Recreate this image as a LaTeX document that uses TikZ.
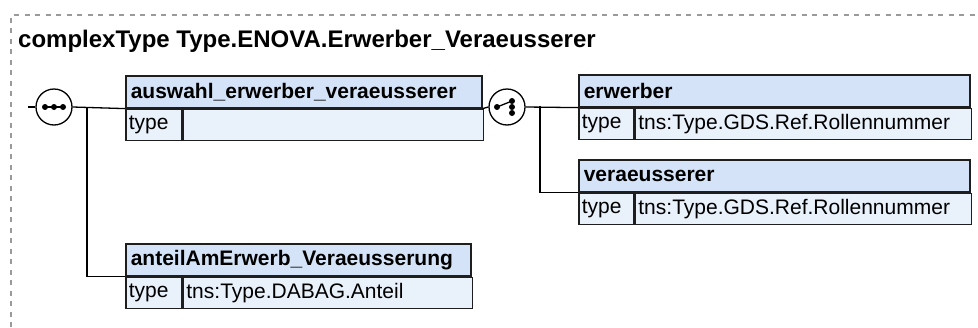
\documentclass[tikz,border=0pt]{standalone}
\usepackage{fontspec}
\setmainfont{Liberation Sans}
\usetikzlibrary{positioning}

\definecolor{hdrblue}{HTML}{D4E3F7}
\definecolor{cellblue}{HTML}{E9F1FB}
\definecolor{edgegray}{HTML}{1E1E1E}
\definecolor{framegray}{HTML}{9A9A9A}

\begin{document}
\begin{tikzpicture}[
x=1pt, y=-1pt,
hdr/.style={draw=edgegray, fill=hdrblue, line width=1.6pt, anchor=north west, inner xsep=5pt, inner ysep=0pt,
  minimum height=32pt, text width=#1, align=left, font=\fontsize{21}{24}\selectfont\bfseries},
cell/.style={draw=edgegray, fill=cellblue, line width=1.6pt, anchor=north west, inner xsep=3pt, inner ysep=0pt,
  minimum height=31pt, text width=#1, align=left, font=\fontsize{21}{24}\selectfont},
grp/.style={draw=black, fill=white, line width=1.3pt, circle, minimum size=36pt, inner sep=0pt},
link/.style={draw=black, line width=1.3pt},
dot/.style={fill=black, circle, inner sep=0pt, minimum size=6pt}
]
\useasboundingbox (0,0) rectangle (978,327);

% frame and title
\draw[framegray, line width=1.2pt, dash pattern=on 5pt off 5.5pt] (11,327) -- (11,15) -- (978,15);
\node[anchor=base west, inner sep=0pt, font=\fontsize{24}{28}\selectfont\bfseries] (title) at (18,47)
  {complexType Type.ENOVA.Erwerber\_Veraeusserer};

% sequence
\node[grp] (seq) at (54,107) {};
\draw[line width=1.3pt] ([xshift=-9pt]seq.center) -- ([xshift=9pt]seq.center);
\foreach \dx in {-9,0,9}
  \node[dot] at ([xshift=\dx pt]seq.center) {};

% auswahl_erwerber_veraeusserer
\node[hdr=346pt] (aw) at (125,75) {auswahl\_erwerber\_veraeusserer};
\node[cell=50pt] (awt) at (aw.south west) {type};
\node[cell=294pt] (awv) at (awt.north east) {};

% choice
\node[grp] (cho) at (507,107) {};
\draw[line width=1.3pt] ([xshift=-10pt]cho.center) -- ([xshift=5pt, yshift=6pt]cho.center);
\foreach \dx/\dy in {-10/0, 5/6, 5/0, 5/-6}
  \node[dot] at ([xshift=\dx pt, yshift=\dy pt]cho.center) {};

% erwerber
\node[hdr=381pt] (er) at (578,74) {erwerber};
\node[cell=49pt] (ert) at (er.south west) {type};
\node[cell=330pt] (erv) at (ert.north east) {tns:Type.GDS.Ref.Rollennummer};

% veraeusserer
\node[hdr=381pt] (ve) at (578,159) {veraeusserer};
\node[cell=49pt] (vet) at (ve.south west) {type};
\node[cell=330pt] (vev) at (vet.north east) {tns:Type.GDS.Ref.Rollennummer};

% anteilAmErwerb_Veraeusserung
\node[hdr=335pt] (an) at (125,243) {anteilAmErwerb\_Veraeusserung};
\node[cell=50pt] (ant) at (an.south west) {type};
\node[cell=283pt] (anv) at (ant.north east) {tns:Type.DABAG.Anteil};

% connectors
\coordinate (in) at (28,107);
\coordinate (j1) at (87,107);
\coordinate (j2) at (540,106);
\draw[link] (in) -- (seq.west);
\draw[link] (seq.east) -- (aw.south west);
\draw[link] (j1) |- (an.south west);
\draw[link] (aw.south east) -- (cho.west);
\draw[link] (cho.east) -- (er.south west);
\draw[link] (j2) |- (ve.south west);
\end{tikzpicture}
\end{document}
